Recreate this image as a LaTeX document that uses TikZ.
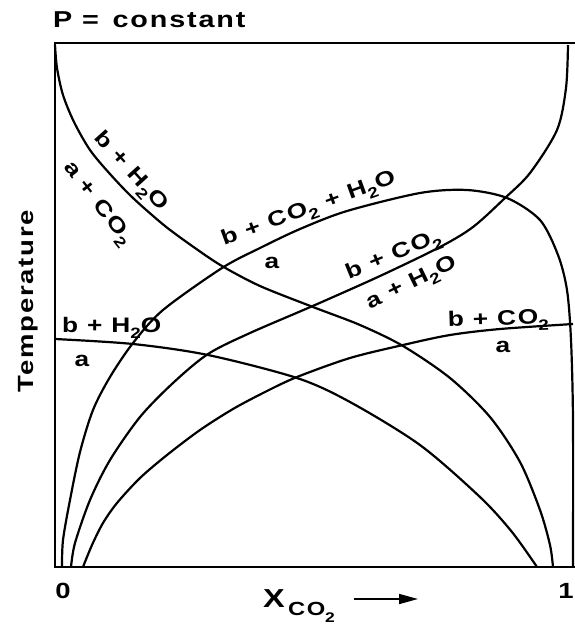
\documentclass[tikz,border=0pt]{standalone}
\usepackage{fontspec}
\setmainfont{Liberation Sans}[FakeStretch=1.25, LetterSpace=8]
\usetikzlibrary{arrows.meta}
\newcommand{\mysub}[1]{\raisebox{-0.3em}{\fontsize{15}{15}\selectfont #1}}
\tikzset{
  curve/.style={line width=2.2pt, line join=round},
  frame/.style={line width=2.8pt},
  lbl/.style={inner sep=0pt, font=\fontsize{21}{21}\selectfont\bfseries},
  big/.style={inner sep=0pt, font=\fontsize{22}{22}\selectfont\bfseries},
}
\begin{document}
\begin{tikzpicture}[x=1pt,y=-1pt]
\useasboundingbox (0,0) rectangle (575,625);
% frame
\coordinate (tl) at (55,43);
\coordinate (tr) at (575,43);
\coordinate (bl) at (55,567);
\coordinate (br) at (575,567);
\draw[frame] (tr) -- (tl) -- (bl) -- (br);
% curve 1: b + H2O / a + CO2
\draw[curve] plot[smooth] coordinates {(55,45) (57,68) (63,95) (74,122) (90,150) (110,174) (133,198) (165,226) (195,248) (222,266) (260,286) (313,307) (360,325) (403,346) (450,378) (490,417) (520,462) (540,510) (550,545) (553,567)};
% curve 2: b + CO2 / a + H2O
\draw[curve] plot[smooth] coordinates {(71,567) (75,543) (90,500) (110,460) (140,417) (173,383) (208,354) (250,333) (315,305) (380,276) (440,247) (473,227) (505,198) (530,173) (557,130) (566,88) (568,45)};
% curve 3: b + CO2 + H2O / a
\draw[curve] plot[smooth] coordinates {(62,567) (63,540) (70,500) (80,452) (93,410) (110,377) (133,343) (163,310) (222,268) (260,248) (300,229) (347,211) (420,193) (467,190) (507,198) (540,220) (558,255) (567,290) (571,340) (573,420) (573,567)};
% curve 4: b + H2O / a
\draw[curve] plot[smooth] coordinates {(55,339) (133,344) (208,355) (297,378) (350,402) (420,445) (480,497) (512,532) (537,567)};
% curve 5: b + CO2 / a
\draw[curve] plot[smooth] coordinates {(83,567) (92,545) (103,523) (117,503) (140,478) (167,455) (200,430) (233,409) (265,392) (297,377) (350,358) (403,345) (450,335) (500,329) (573,324)};
% title and axes labels
\node[big, anchor=base west, font=\fontsize{23}{23}\selectfont\bfseries] (title) at (53,27) {P = \,constant};
\node[big, anchor=base, rotate=90] (ylab) at (34,301) {Temperature};
\node[big] (x0) at (63,591) {0};
\node[big] (x1) at (566,591) {1};
\node[inner sep=0pt, anchor=base west, font=\fontsize{26}{26}\selectfont\bfseries] (xlabX) at (263,607) {X};
\node[inner sep=0pt, anchor=base west, font=\fontsize{19}{19}\selectfont\bfseries] (xlabC) at (288,615) {CO};
\node[inner sep=0pt, anchor=base west, font=\fontsize{14}{14}\selectfont\bfseries] (xlab2) at (325,622) {2};
\coordinate (arS) at (354,599);
\coordinate (arE) at (418,599);
\draw[line width=1.6pt, -{Triangle[length=19pt,width=10pt]}] (arS) -- (arE);
% labels curve 1
\node[lbl, rotate=-48] (l1a) at (130,172) {b + H\mysub{2}O};
\node[lbl, rotate=-52] (l1b) at (97,204) {a + CO\mysub{2}};
% labels curve 3
\node[lbl, rotate=20] (l3a) at (309,210) {b + CO\mysub{2} + H\mysub{2}O};
\node[lbl, anchor=base] (l3b) at (272,268) {a};
% labels curve 2
\node[lbl, rotate=22] (l2a) at (394,256) {b + CO\mysub{2}};
\node[lbl, rotate=26] (l2b) at (412,284) {a + H\mysub{2}O};
% labels curve 4
\node[lbl, anchor=base west] (l4a) at (62,332) {b + H\mysub{2}O};
\node[lbl, anchor=base] (l4b) at (82,366) {a};
% labels curve 5
\node[lbl, anchor=base west, rotate=2] (l5a) at (448,327) {b + CO\mysub{2}};
\node[lbl, anchor=base] (l5b) at (503,352) {a};
\end{tikzpicture}
\end{document}
